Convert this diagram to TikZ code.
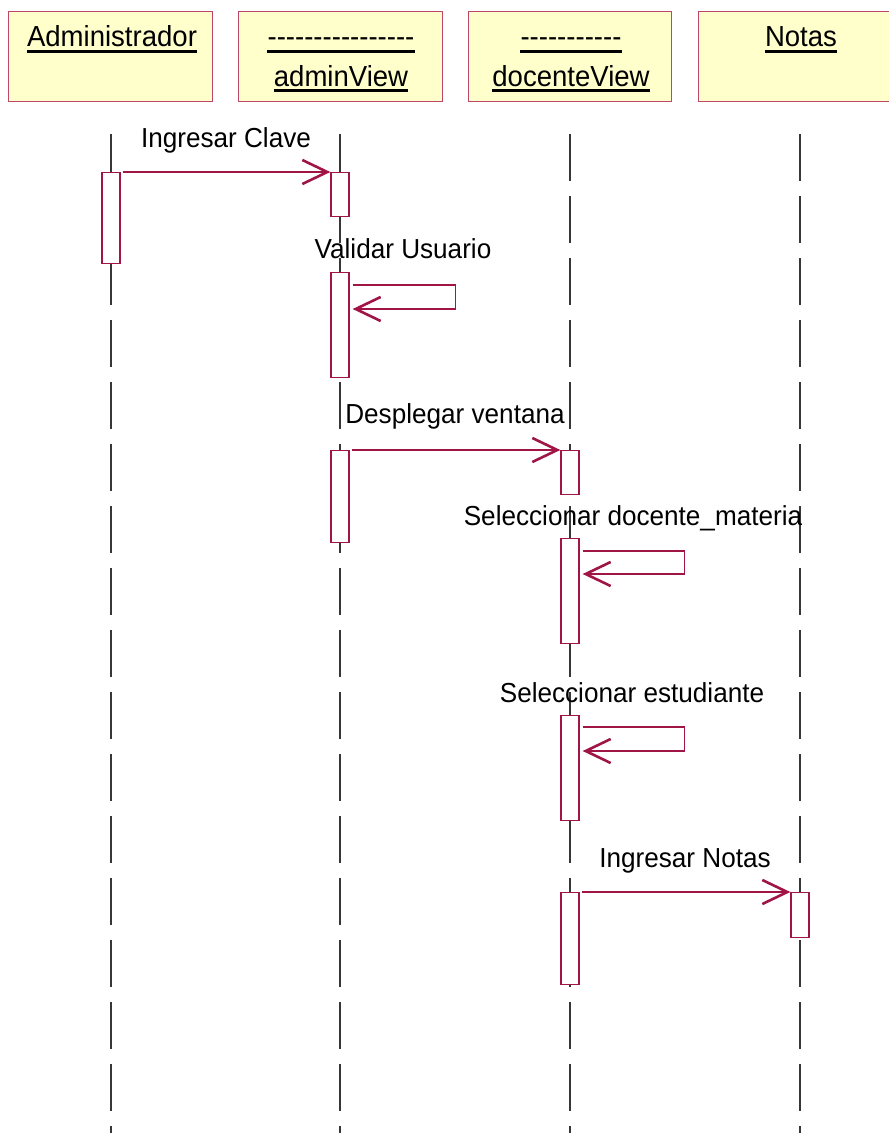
\documentclass[tikz,border=0pt]{standalone}
\usepackage{fontspec}
\setmainfont{Liberation Sans}[FakeStretch=0.95]
\usetikzlibrary{arrows.meta}

\definecolor{hdrfill}{RGB}{255,255,204}
\definecolor{hdrline}{RGB}{190,70,105}
\definecolor{msgc}{RGB}{160,20,70}
\definecolor{lifec}{RGB}{55,55,55}

% a single hyphen kept apart from its neighbours
\newcommand{\hy}{\mbox{-}}

\begin{document}
\begin{tikzpicture}[x=1pt,y=-1pt,
  hdrbox/.style={draw=hdrline, fill=hdrfill, line width=1.3pt, inner sep=0pt,
    minimum width=204pt, minimum height=90pt, anchor=north west},
  hdrtext/.style={inner sep=0pt, anchor=base, font=\fontsize{29}{34}\selectfont},
  uline/.style={line width=3pt, black},
  msgtext/.style={inner sep=0pt, anchor=base, font=\fontsize{27.5}{32}\selectfont},
  act/.style={draw=msgc, fill=white, line width=1.3pt, inner sep=0pt,
    minimum width=18pt, anchor=north},
  lifeline/.style={draw=lifec, line width=1.2pt, dash pattern=on 47pt off 15pt},
  msg/.style={draw=msgc, line width=1.2pt,
    -{Straight Barb[length=25pt,width=24pt,line width=2.6pt]}},
]
\useasboundingbox (0,0) rectangle (889,1133);
\clip (0,0) rectangle (889,1133);

% lifelines
\coordinate (la-top) at (111,134);  \coordinate (la-bot) at (111,1140);
\coordinate (lb-top) at (340,134);  \coordinate (lb-bot) at (340,1140);
\coordinate (lc-top) at (570,134);  \coordinate (lc-bot) at (570,1140);
\coordinate (ld-top) at (800,134);  \coordinate (ld-bot) at (800,1140);
\draw[lifeline] (la-top) -- (la-bot);
\draw[lifeline] (lb-top) -- (lb-bot);
\draw[lifeline] (lc-top) -- (lc-bot);
\draw[lifeline] (ld-top) -- (ld-bot);

% object headers
\node[hdrbox] (hA) at (8,11) {};
\node[hdrbox] (hB) at (238,11) {};
\node[hdrbox, minimum width=203pt] (hC) at (468,11) {};
\node[hdrbox] (hD) at (698,11) {};

\node[hdrtext] (tA) at (112,46) {Administrador};
\draw[uline] ([yshift=-5.5pt]tA.base west) -- ([yshift=-5.5pt]tA.base east);

\node[hdrtext] (tB1) at (341,46) {\hy\hy\hy\hy\hy\hy\hy\hy\hy\hy\hy\hy\hy\hy\hy\hy};
\draw[uline] ([yshift=-5.5pt]tB1.base west) -- ([yshift=-5.5pt]tB1.base east);
\node[hdrtext] (tB2) at (341,86) {adminView};
\draw[uline] ([yshift=-4.5pt]tB2.base west) -- ([yshift=-4.5pt]tB2.base east);

\node[hdrtext] (tC1) at (571,46) {\hy\hy\hy\hy\hy\hy\hy\hy\hy\hy\hy};
\draw[uline] ([yshift=-5.5pt]tC1.base west) -- ([yshift=-5.5pt]tC1.base east);
\node[hdrtext] (tC2) at (571,86) {docenteView};
\draw[uline] ([yshift=-4.5pt]tC2.base west) -- ([yshift=-4.5pt]tC2.base east);

\node[hdrtext] (tD) at (801,46) {Notas};
\draw[uline] ([yshift=-5.5pt]tD.base west) -- ([yshift=-5.5pt]tD.base east);

% activation bars
\node[act, minimum height=91pt]  (a1) at (111,172) {};
\node[act, minimum height=44pt]  (b1) at (340,172) {};
\node[act, minimum height=105pt] (b2) at (340,272) {};
\node[act, minimum height=92pt]  (b3) at (340,450) {};
\node[act, minimum height=44pt]  (c1) at (570,450) {};
\node[act, minimum height=105pt] (c2) at (570,538) {};
\node[act, minimum height=105pt] (c3) at (570,715) {};
\node[act, minimum height=92pt]  (c4) at (570,892) {};
\node[act, minimum height=45pt]  (d1) at (800,892) {};

% messages
\draw[msg] ([xshift=2pt]a1.north east) -- (b1.north west);
\node[msgtext] (m1) at (226,147) {Ingresar Clave};

\draw[msg] ([shift={(3,13)}]b2.north east) -- ++(103,0) -- ++(0,24) -- ++(-103,0);
\node[msgtext] (m2) at (403,258) {Validar Usuario};

\draw[msg] ([xshift=2pt]b3.north east) -- (c1.north west);
\node[msgtext] (m3) at (455,423) {Desplegar ventana};

\draw[msg] ([shift={(3,13)}]c2.north east) -- ++(102,0) -- ++(0,23) -- ++(-102,0);
\node[msgtext] (m4) at (633,525) {Seleccionar docente\_materia};

\draw[msg] ([shift={(3,12)}]c3.north east) -- ++(102,0) -- ++(0,24) -- ++(-102,0);
\node[msgtext] (m5) at (632,702) {Seleccionar estudiante};

\draw[msg] ([xshift=2pt]c4.north east) -- (d1.north west);
\node[msgtext] (m6) at (685,867) {Ingresar Notas};

\end{tikzpicture}
\end{document}
